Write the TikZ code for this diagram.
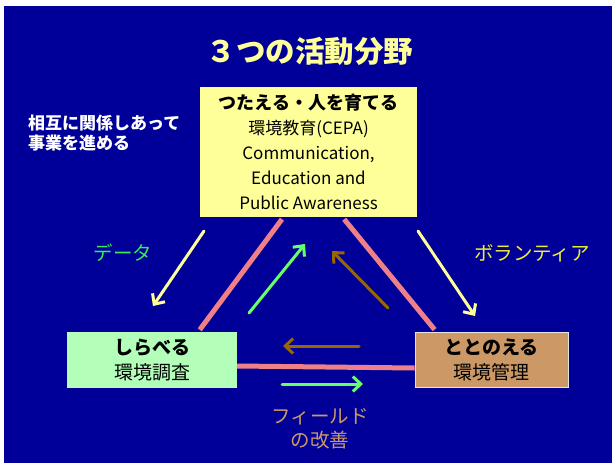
\documentclass[tikz,border=0pt]{standalone}
\usepackage{fontspec}
\setmainfont{Noto Sans CJK JP}
\usetikzlibrary{arrows.meta,calc}
\definecolor{bgblue}{HTML}{000099}
\definecolor{boxyellow}{HTML}{FFFF99}
\definecolor{boxgreen}{HTML}{B3FFB9}
\definecolor{boxtan}{HTML}{CC9966}
\definecolor{linkpink}{HTML}{F08088}
\definecolor{arryellow}{HTML}{FFFF99}
\definecolor{arrgreen}{HTML}{66FF66}
\definecolor{arrbrown}{HTML}{996600}
\definecolor{txtgreen}{HTML}{33EE55}
\definecolor{txtyellow}{HTML}{EEEE33}
\definecolor{txttan}{HTML}{CC9966}
\tikzset{
  box/.style={inner sep=0pt, align=center, text=black},
  link/.style={draw=linkpink, line width=5pt},
  flow/.style={line width=3pt, line cap=round, -{Straight Barb[length=8pt,width=15pt,line width=3pt]}},
  lbl/.style={inner sep=0pt, align=center, font=\fontsize{19.5}{24}\selectfont},
}
\begin{document}
\begin{tikzpicture}[x=1pt,y=-1pt]
\useasboundingbox (0,0) rectangle (612,463);
\fill[white] (0,0) rectangle (612,463);
\fill[bgblue] (4,6) rectangle (612,463);

% title and side note
\node[inner sep=0pt, text=boxyellow, font=\fontsize{29.5}{32}\selectfont\bfseries] (title) at (310,51) {３つの活動分野};
\node[inner sep=0pt, anchor=west, align=left, text=white, font=\fontsize{17}{20}\selectfont\bfseries] (note) at (28,133.5) {相互に関係しあって\\事業を進める};

% boxes
\node[box, fill=boxyellow, minimum width=217pt, minimum height=130pt,
      font=\fontsize{17}{25}\selectfont] (tb) at (308.5,152)
  {{\fontsize{18}{25}\selectfont\bfseries つたえる・人を育てる}\\環境教育(CEPA)\\Communication,\\Education and\\Public Awareness};
\node[box, fill=boxgreen, minimum width=170pt, minimum height=56pt,
      font=\fontsize{19}{25}\selectfont] (lb) at (152,360)
  {{\bfseries しらべる}\\環境調査};
\node[box, fill=boxtan, draw=white!80!gray, line width=0.8pt, minimum width=153pt, minimum height=55pt,
      font=\fontsize{19}{25}\selectfont] (rb) at (491.5,359.5)
  {{\bfseries ととのえる}\\環境管理};

% pink links between the boxes
\coordinate (l1a) at ($(lb.north west)!0.78!(lb.north east)$);
\coordinate (l1b) at ($(tb.south west)!0.378!(tb.south east)$);
\coordinate (l2a) at ($(tb.south west)!0.664!(tb.south east)$);
\coordinate (l2b) at ($(rb.north west)!0.13!(rb.north east)$);
\draw[link] ([yshift=2pt]l1a) -- ([yshift=-2pt]l1b);
\draw[link] ([yshift=-2pt]l2a) -- ([yshift=2pt]l2b);
\draw[link] ([yshift=-6pt]lb.east) -- ([yshift=-8.5pt]rb.west);

% flow arrows
\coordinate (ya1) at (204,231); \coordinate (ya2) at (153,306);
\coordinate (yb1) at (418,231); \coordinate (yb2) at (475,316);
\coordinate (ga1) at (249,313); \coordinate (ga2) at (305,244);
\coordinate (ba1) at (388,308); \coordinate (ba2) at (332,251);
\coordinate (bh1) at (359,346); \coordinate (bh2) at (283,346);
\coordinate (gh1) at (282,384); \coordinate (gh2) at (363,384);
\draw[flow, arryellow] (ya1) -- (ya2);
\draw[flow, arryellow] (yb1) -- (yb2);
\draw[flow, arrgreen] (ga1) -- (ga2);
\draw[flow, arrbrown] (ba1) -- (ba2);
\draw[flow, arrbrown] (bh1) -- (bh2);
\draw[flow, arrgreen] (gh1) -- (gh2);

% labels
\node[lbl, text=txtgreen] (data) at (123,253) {データ};
\node[lbl, text=txtyellow] (vol) at (532,253) {ボランティア};
\node[lbl, text=txttan] (field) at (320,428.5) {フィールド\\の改善};
\end{tikzpicture}
\end{document}
